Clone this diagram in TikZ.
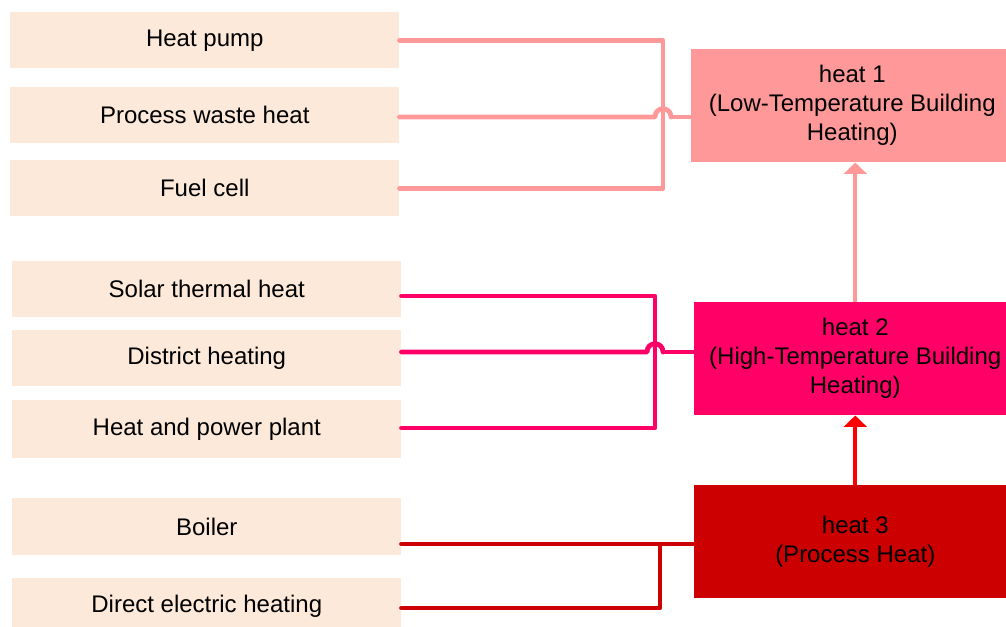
\documentclass[tikz,border=0pt]{standalone}
\usepackage{fontspec}
\setmainfont{Liberation Sans}
\usetikzlibrary{calc,arrows.meta}
\definecolor{srcfill}{HTML}{FCE9DA}
\definecolor{hone}{HTML}{FF9999}
\definecolor{htwo}{HTML}{FF0066}
\definecolor{hthree}{HTML}{CC0000}
\definecolor{arrred}{HTML}{FF0000}
\begin{document}
\begin{tikzpicture}[x=0.75pt,y=-0.75pt,
  src/.style={fill=srcfill, draw=none, minimum width=389*0.75pt, minimum height=56*0.75pt,
    anchor=north west, inner sep=0pt, font=\fontsize{18}{21.75}\selectfont, text=black},
  heatbox/.style={draw=none, minimum width=322*0.75pt, minimum height=113*0.75pt,
    anchor=north west, inner sep=0pt, align=center, font=\fontsize{18}{21.75}\selectfont, text=black},
  link/.style={line width=3.6pt, line cap=round, line join=round},
  thinlink/.style={line width=2.6pt, line cap=round, line join=round},
  uparrow/.style={line width=2.8pt, -{Triangle[width=17pt,length=8.5pt]}}
]
\useasboundingbox (0,0) rectangle (1006,627);

% source boxes
\node[src] (hp) at (10,12) {Heat pump};
\node[src] (pwh) at (10,87) {Process waste heat};
\node[src] (fc) at (10,160) {Fuel cell};
\node[src] (sol) at (12,261) {Solar thermal heat};
\node[src] (dh) at (12,330) {District heating};
\node[src, minimum height=58*0.75pt] (hpp) at (12,400) {Heat and power plant};
\node[src, minimum height=57*0.75pt] (boi) at (12,498) {Boiler};
\node[src, minimum height=56*0.75pt] (del) at (12,578) {Direct electric heating};

% heat boxes
\node[heatbox, fill=hone] (h1) at (691,49) {heat 1\\(Low-Temperature Building\\Heating)};
\node[heatbox, fill=htwo] (h2) at (694,302) {heat 2\\(High-Temperature Building\\Heating)};
\node[heatbox, fill=hthree] (h3) at (694,485) {heat 3\\(Process Heat)};

% arrows between heat boxes
\draw[uparrow, hone] (h2.north) -- (h2.north |- h1.south);
\draw[uparrow, arrred] (h3.north) -- (h3.north |- h2.south);

% group 1
\coordinate (j1) at (663,117);
\draw[link, hone] (hp.east) -| (j1) |- (fc.east);
\draw[link, hone] (pwh.east |- j1) -- ($(j1)+(-8,0)$)
  .. controls ($(j1)+(-8,-11)$) and ($(j1)+(8,-11)$) .. ($(j1)+(8,0)$);
\draw[thinlink, hone] ($(j1)+(8,0)$) -- (h1.west |- j1);

% group 2
\coordinate (j2) at (655,352);
\coordinate (j2t) at (655,296);
\coordinate (j2b) at (655,428);
\draw[link, htwo] (sol.east |- j2t) -- (j2t) -- (j2b) -- (hpp.east |- j2b);
\draw[link, htwo] (dh.east |- j2) -- ($(j2)+(-8,0)$)
  .. controls ($(j2)+(-8,-11)$) and ($(j2)+(8,-11)$) .. ($(j2)+(8,0)$);
\draw[thinlink, htwo] ($(j2)+(8,0)$) -- (h2.west |- j2);

% group 3
\coordinate (j3) at (660,544);
\coordinate (j3b) at (660,608);
\draw[link, hthree] (boi.east |- j3) -- (j3) -- (j3b) -- (del.east |- j3b);
\draw[thinlink, hthree] (j3) -- (h3.west |- j3);
\end{tikzpicture}
\end{document}
